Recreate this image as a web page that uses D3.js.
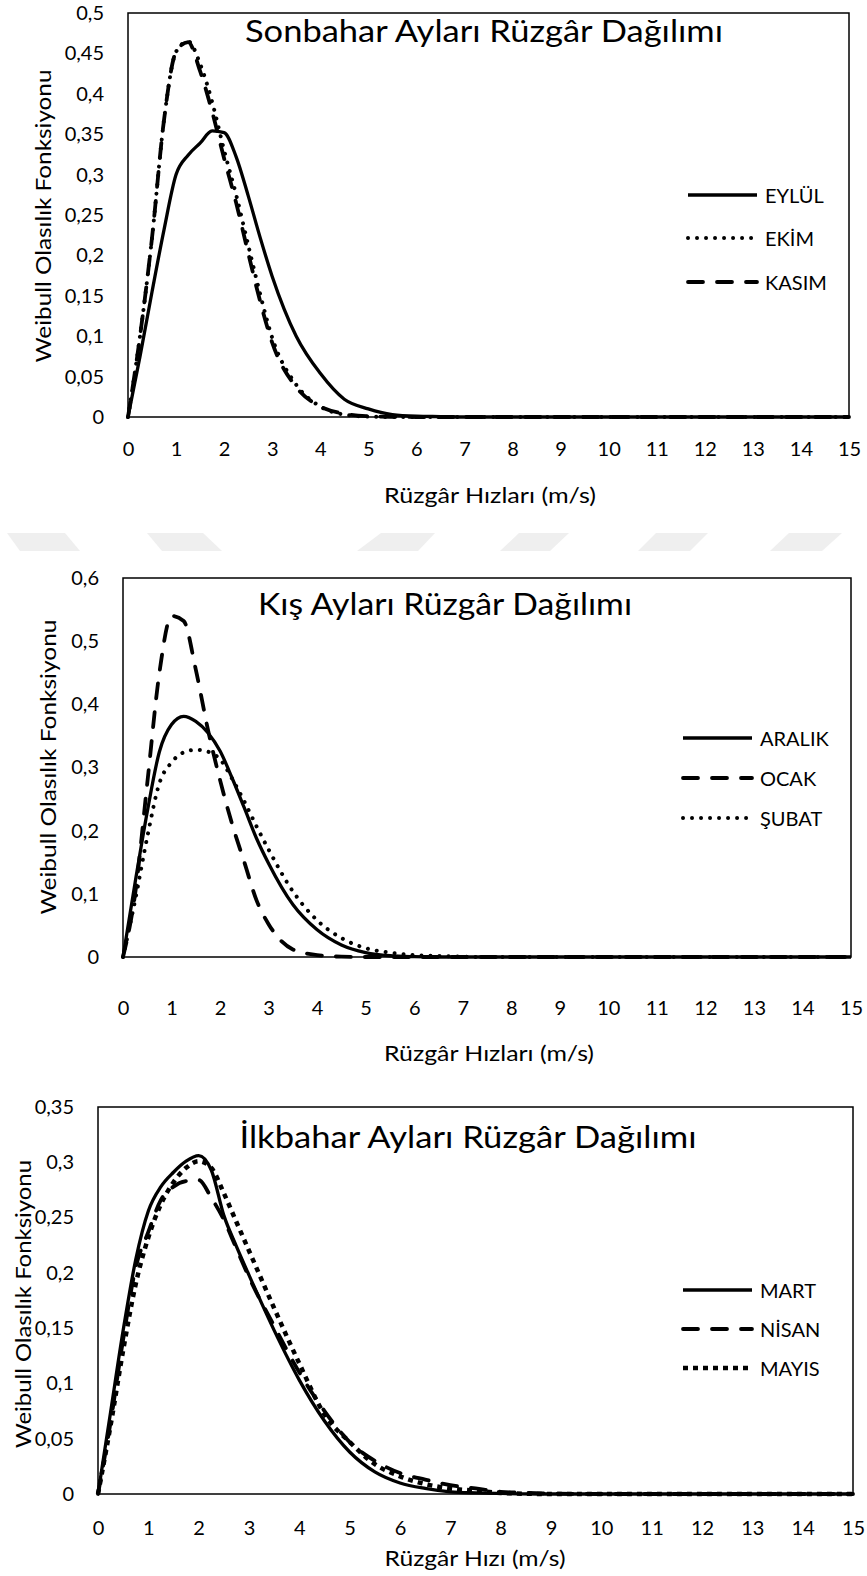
<!DOCTYPE html>
<html><head><meta charset="utf-8">
<script src="https://cdn.jsdelivr.net/npm/d3@7"></script>
<style>
body{margin:0;background:#fff}
svg text{font-family:Lato,"Open Sans",sans-serif;fill:#000}
</style>
</head><body>
<svg id="c" width="867" height="1576"></svg>
<script>
// ---------- DATA ----------
const speeds = [0,0.25,0.5,0.75,1,1.25,1.5,1.75,2,2.25,2.5,2.75,3,3.5,4,4.5,5,5.5,6,6.5,7,7.5,8,9,10,11,12,13,14,15];
const xTicks = [0,1,2,3,4,5,6,7,8,9,10,11,12,13,14,15];

// Sonbahar (autumn)
const autumnNames = ["EYLÜL","EKİM","KASIM"];
const eylul = [0,0.075,0.155,0.232,0.300,0.324,0.339,0.354,0.352,0.322,0.274,0.222,0.174,0.100,0.054,0.022,0.010,0.003,0.001,0.0005,0,0,0,0,0,0,0,0,0,0];
const ekim  = [0,0.100,0.222,0.368,0.452,0.465,0.437,0.390,0.330,0.275,0.213,0.152,0.098,0.040,0.013,0.003,0.0005,0,0,0,0,0,0,0,0,0,0,0,0,0];
const kasim = [0,0.100,0.222,0.368,0.452,0.464,0.428,0.378,0.320,0.265,0.203,0.143,0.092,0.037,0.013,0.004,0.001,0.0003,0,0,0,0,0,0,0,0,0,0,0,0];
const autumnTicks = [0,0.05,0.1,0.15,0.2,0.25,0.3,0.35,0.4,0.45,0.5];

// Kış (winter)
const winterNames = ["ARALIK","OCAK","ŞUBAT"];
const aralik = [0,0.118,0.230,0.325,0.368,0.381,0.373,0.355,0.326,0.283,0.236,0.188,0.148,0.083,0.043,0.019,0.007,0.002,0.0005,0,0,0,0,0,0,0,0,0,0,0];
const ocak   = [0,0.100,0.275,0.450,0.540,0.532,0.455,0.360,0.280,0.210,0.150,0.090,0.052,0.012,0.003,0.0005,0,0,0,0,0,0,0,0,0,0,0,0,0,0];
const subat  = [0,0.090,0.190,0.275,0.308,0.324,0.328,0.325,0.313,0.282,0.246,0.207,0.170,0.104,0.058,0.030,0.014,0.007,0.003,0.0015,0.0005,0,0,0,0,0,0,0,0,0];
const winterTicks = [0,0.1,0.2,0.3,0.4,0.5,0.6];

// İlkbahar (spring)
const springNames = ["MART","NİSAN","MAYIS"];
const mart  = [0,0.074,0.148,0.212,0.256,0.278,0.291,0.301,0.306,0.293,0.252,0.224,0.198,0.148,0.103,0.066,0.038,0.020,0.010,0.005,0.002,0.001,0.0005,0,0,0,0,0,0,0];
const nisan = [0,0.065,0.140,0.205,0.237,0.266,0.278,0.283,0.284,0.268,0.248,0.222,0.196,0.152,0.110,0.075,0.047,0.030,0.019,0.013,0.008,0.005,0.002,0.0005,0,0,0,0,0,0];
const mayis = [0,0.062,0.130,0.190,0.232,0.262,0.282,0.295,0.301,0.295,0.272,0.246,0.220,0.168,0.118,0.072,0.047,0.027,0.016,0.009,0.005,0.003,0.001,0,0,0,0,0,0,0];
const springTicks = [0,0.05,0.1,0.15,0.2,0.25,0.3,0.35];

// ---------- STYLES ----------
const styles = {
  solid:  {w:3.3, dash:null,     cap:"butt"},
  dot:    {w:4,   dash:"0.01 9", cap:"round"},
  dash:   {w:3.8, dash:"15 14",  cap:"round"},
  square: {w:4.5, dash:"5 5",    cap:"butt"}
};

const svg = d3.select("#c");

// watermark band (decorative)
const wm = [
  {t:[7,65],   b:[20,80]},
  {t:[147,203],b:[162,222]},
  {t:[381,435],b:[357,418]},
  {t:[519,569],b:[500,550]},
  {t:[656,708],b:[638,690]},
  {t:[789,842],b:[770,822]}
];
const wmTop = 533, wmBot = 551;
svg.append("g").selectAll("path").data(wm).join("path")
  .attr("d", d => `M${d.t[0]},${wmTop}L${d.t[1]},${wmTop}L${d.b[1]},${wmBot}L${d.b[0]},${wmBot}Z`)
  .attr("fill","#efefef");

const fmt = v => v === 0 ? "0" : String(+v.toFixed(2)).replace(".", ",");

function chart(cfg){
  const g = svg.append("g");
  const x = d3.scaleLinear().domain([0,15]).range([cfg.box.l, cfg.box.r]);
  const y = d3.scaleLinear().domain([0, cfg.yMax]).range([cfg.box.b, cfg.box.t]);

  g.append("rect").attr("x",cfg.box.l).attr("y",cfg.box.t)
    .attr("width",cfg.box.r-cfg.box.l).attr("height",cfg.box.b-cfg.box.t)
    .attr("fill","none").attr("stroke","#000").attr("stroke-width",1.5);

  const ya = d3.axisLeft(y).tickValues(cfg.yTicks).tickFormat(fmt).tickSize(0).tickPadding(24);
  const yg = g.append("g").attr("transform",`translate(${cfg.box.l},0)`).call(ya);
  yg.select(".domain").remove();
  yg.selectAll("text").attr("font-size",20).attr("font-family","Lato").attr("fill","#000");

  const xa = d3.axisBottom(x).tickValues(xTicks).tickFormat(d=>d).tickSize(0).tickPadding(0);
  const xg = g.append("g").attr("transform",`translate(0,${cfg.xLabelY})`).call(xa);
  xg.select(".domain").remove();
  xg.selectAll("text").attr("font-size",20).attr("font-family","Lato").attr("fill","#000")
    .attr("dy",null).attr("dominant-baseline","central");

  const line = d3.line().x((d,i)=>x(speeds[i])).y(d=>y(d)).curve(d3.curveMonotoneX);
  cfg.series.forEach(s=>{
    const st = styles[s.style];
    g.append("path").attr("d", line(s.values)).attr("fill","none")
      .attr("stroke","#000").attr("stroke-width",st.w)
      .attr("stroke-dasharray",st.dash).attr("stroke-linecap",st.cap)
      .attr("stroke-linejoin","round");
  });

  g.append("text").attr("x",cfg.title.x).attr("y",cfg.title.y)
    .attr("text-anchor","middle").attr("font-size",30)
    .attr("textLength",cfg.title.len).attr("lengthAdjust","spacingAndGlyphs")
    .text(cfg.title.text);

  g.append("text").attr("x",cfg.xTitle.x).attr("y",cfg.xTitle.y)
    .attr("text-anchor","middle").attr("dominant-baseline","central")
    .attr("font-size",22).attr("textLength",cfg.xTitle.len).attr("lengthAdjust","spacingAndGlyphs")
    .text(cfg.xTitle.text);
  g.append("text").attr("transform",`translate(${cfg.yTitle.x},${cfg.yTitle.y}) rotate(-90)`)
    .attr("text-anchor","middle").attr("dominant-baseline","central")
    .attr("font-size",22).attr("textLength",cfg.yTitle.len).attr("lengthAdjust","spacingAndGlyphs")
    .text("Weibull Olasılık Fonksiyonu");

  cfg.series.forEach((s,i)=>{
    const st = styles[s.style];
    const ly = cfg.legend.y[i];
    g.append("line").attr("x1",cfg.legend.x1).attr("x2",cfg.legend.x2)
      .attr("y1",ly).attr("y2",ly).attr("stroke","#000").attr("stroke-width",st.w)
      .attr("stroke-dasharray",st.dash).attr("stroke-linecap",st.cap);
    g.append("text").attr("x",cfg.legend.tx).attr("y",ly)
      .attr("dominant-baseline","central").attr("font-size",20).text(s.name);
  });
}

chart({
  box:{l:128,t:13,r:849,b:417}, yMax:0.5, yTicks:autumnTicks, xLabelY:448,
  title:{text:"Sonbahar Ayları Rüzgâr Dağılımı", x:484, y:42, len:478},
  xTitle:{text:"Rüzgâr Hızları (m/s)", x:490, y:494, len:212},
  yTitle:{x:42, y:216, len:293},
  legend:{x1:688, x2:757, tx:765, y:[195,238,282]},
  series:[
    {name:autumnNames[0], values:eylul, style:"solid"},
    {name:autumnNames[1], values:ekim,  style:"dot"},
    {name:autumnNames[2], values:kasim, style:"dash"}
  ]
});

chart({
  box:{l:123,t:578,r:851,b:957}, yMax:0.6, yTicks:winterTicks, xLabelY:1007,
  title:{text:"Kış Ayları Rüzgâr Dağılımı", x:445, y:615, len:374},
  xTitle:{text:"Rüzgâr Hızları (m/s)", x:489, y:1052, len:210},
  yTitle:{x:47, y:767, len:295},
  legend:{x1:683, x2:752, tx:760, y:[738,778,818]},
  series:[
    {name:winterNames[0], values:aralik, style:"solid"},
    {name:winterNames[1], values:ocak,   style:"dash"},
    {name:winterNames[2], values:subat,  style:"dot"}
  ]
});

chart({
  box:{l:98,t:1107,r:853,b:1494}, yMax:0.35, yTicks:springTicks, xLabelY:1527,
  title:{text:"İlkbahar Ayları Rüzgâr Dağılımı", x:468, y:1148, len:457},
  xTitle:{text:"Rüzgâr Hızı (m/s)", x:475, y:1557, len:181},
  yTitle:{x:22, y:1304, len:288},
  legend:{x1:683, x2:752, tx:760, y:[1290,1329,1368]},
  series:[
    {name:springNames[0], values:mart,  style:"solid"},
    {name:springNames[1], values:nisan, style:"dash"},
    {name:springNames[2], values:mayis, style:"square"}
  ]
});
</script>
</body></html>
